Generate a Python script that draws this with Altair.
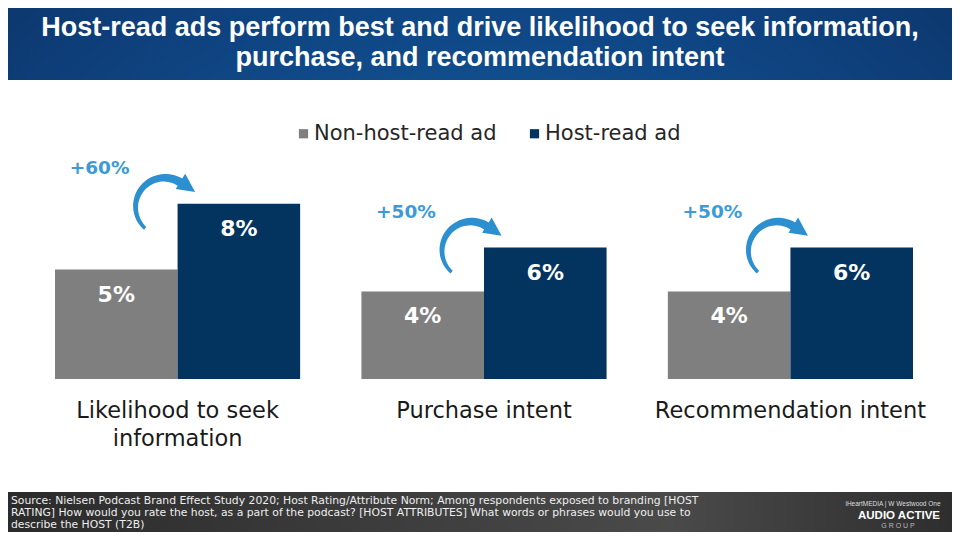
import math
import altair as alt
import pandas as pd

# ---------------- data ----------------
categories = ["Likelihood to seek information", "Purchase intent", "Recommendation intent"]
series = ["Non-host-read ad", "Host-read ad"]
non_host = [5, 4, 4]
host = [8, 6, 6]
series_colors = ["#7f7f7f", "#03335f"]

title_lines = [
    "Host-read ads perform best and drive likelihood to seek information,",
    "purchase, and recommendation intent",
]
source_lines = [
    "Source: Nielsen Podcast Brand Effect Study 2020; Host Rating/Attribute Norm; Among respondents exposed to branding [HOST",
    "RATING] How would you rate the host, as a part of the podcast? [HOST ATTRIBUTES] What words or phrases would you use to",
    "describe  the HOST (T2B)",
]

# ---------------- tables ----------------
rows = []
for c, a, b in zip(categories, non_host, host):
    rows.append({"cat": c, "series": series[0], "value": a, "label": f"{a}%"})
    rows.append({"cat": c, "series": series[1], "value": b, "label": f"{b}%"})
bars_df = pd.DataFrame(rows)

lift_df = pd.DataFrame({
    "cat": categories,
    "host": host,
    "lift": [f"+{round((h - n) / n * 100)}%" for n, h in zip(non_host, host)],
})
one = pd.DataFrame({"d": [0]})

W, H = 858, 219
PAD = {"left": 47, "top": 152, "right": 39, "bottom": 153}

# curved arrow glyph (unit-square path, scaled by sqrt(size)/2)
def arrow_path(k=40.0, cx=-13.0, cy=3.0):
    rm = 29.0
    th0, th1 = math.radians(222), math.radians(392)
    t0, t1 = 3.5, 8.5
    n = 36

    def pt(th, r):
        return (cx + r * math.sin(th), cy - r * math.cos(th))

    outer, inner = [], []
    for i in range(n + 1):
        f = i / n
        th = th0 + (th1 - th0) * f
        t = t0 + (t1 - t0) * f
        outer.append(pt(th, rm + t / 2))
        inner.append(pt(th, rm - t / 2))
    head = [pt(th1, rm + 10), pt(math.radians(424), rm + 5), pt(th1, rm - 8)]
    pts = outer + head + inner[::-1]
    return "M" + " L".join(f"{x / k:.4f},{y / k:.4f}" for x, y in pts) + " Z"

ARROW = arrow_path()

x_enc = alt.X(
    "cat:N",
    sort=categories,
    title=None,
    scale=alt.Scale(paddingInner=0.2, paddingOuter=0),
    axis=alt.Axis(
        domain=False, ticks=False, grid=False,
        labelFont="DejaVu Sans", labelFontSize=22.5, labelColor="#1a1a1a",
        labelPadding=20, labelLineHeight=28, labelAngle=0, labelLimit=400,
        labelExpr="datum.label == 'Likelihood to seek information' ? ['Likelihood to seek', 'information'] : datum.label",
    ),
)
y_scale = alt.Scale(domain=[0, 10])
xoff = alt.XOffset("series:N", sort=series, scale=alt.Scale(paddingInner=0, paddingOuter=0))

base = alt.Chart(bars_df)

bars = base.mark_bar().encode(
    x=x_enc,
    xOffset=xoff,
    y=alt.Y("value:Q", scale=y_scale, axis=None),
    color=alt.Color(
        "series:N", sort=series,
        scale=alt.Scale(domain=series, range=series_colors),
        legend=alt.Legend(
            orient="none", legendX=238, legendY=-37, direction="horizontal", title=None,
            symbolType="square", symbolSize=85, symbolStrokeWidth=0, symbolOpacity=1,
            labelFont="DejaVu Sans", labelFontSize=21, labelColor="#262626",
            labelLimit=400, columnPadding=27, labelOffset=0,
        ),
    ),
)

values = base.mark_text(
    font="DejaVu Sans", fontWeight="bold", fontSize=22, color="white",
    baseline="middle", dy=25,
).encode(
    x=x_enc,
    xOffset=xoff,
    y=alt.Y("value:Q", scale=y_scale, axis=None),
    text="label:N",
)

arrows = alt.Chart(lift_df).mark_point(
    shape=ARROW, size=6400, filled=True, opacity=1, color="#2b8fd0", strokeWidth=0,
).encode(
    x=x_enc,
    y=alt.Y("host:Q", scale=y_scale, axis=None),
)

lifts = alt.Chart(lift_df).mark_text(
    font="DejaVu Sans", fontWeight="bold", fontSize=18.5, color="#3c9bd6",
    baseline="middle", align="center", dx=-78, dy=-36,
).encode(
    x=x_enc,
    y=alt.Y("host:Q", scale=y_scale, axis=None),
    text="lift:N",
)

# ---------------- decorations ----------------
banner = alt.Chart(one).mark_rect(
    color={
        "gradient": "radial",
        "x1": 0.5, "y1": 1.0, "r1": 0.0,
        "x2": 0.5, "y2": 1.0, "r2": 1.0,
        "stops": [
            {"offset": 0, "color": "#1b74b9"},
            {"offset": 0.55, "color": "#0f4583"},
            {"offset": 1, "color": "#0a2553"},
        ],
    }
).encode(x=alt.value(-47), x2=alt.value(897), y=alt.value(-152), y2=alt.value(-80))

title_marks = [
    alt.Chart(one).mark_text(
        text=t, font="Liberation Sans", fontWeight="bold", fontSize=27, color="white",
        align="center", baseline="middle",
    ).encode(x=alt.value(425), y=alt.value(yy))
    for t, yy in zip(title_lines, [-132, -102])
]

footer = alt.Chart(one).mark_rect(
    color={
        "gradient": "linear", "x1": 0, "y1": 0, "x2": 1, "y2": 0,
        "stops": [
            {"offset": 0, "color": "#2b2b2b"},
            {"offset": 0.7, "color": "#4a4a4a"},
            {"offset": 1, "color": "#2e2e2e"},
        ],
    }
).encode(x=alt.value(-47), x2=alt.value(897), y=alt.value(332), y2=alt.value(380))

source_marks = [
    alt.Chart(one).mark_text(
        text=t, font="DejaVu Sans", fontSize=10.8, color="#eeeeee",
        align="left", baseline="middle",
    ).encode(x=alt.value(-44), y=alt.value(yy))
    for t, yy in zip(source_lines, [341, 353, 365])
]

logo_small = alt.Chart(one).mark_text(
    text="iHeartMEDIA | W Westwood One", font="Liberation Sans", fontSize=6.5, color="#dddddd",
    align="center", baseline="middle",
).encode(x=alt.value(838), y=alt.value(344))
logo_main = alt.Chart(one).mark_text(
    text="AUDIO ACTIVE", font="Liberation Sans", fontWeight="bold", fontSize=11.5, color="white",
    align="center", baseline="middle",
).encode(x=alt.value(844), y=alt.value(356))
logo_group = alt.Chart(one).mark_text(
    text="G   R   O   U   P", font="Liberation Sans", fontSize=7, color="#bbbbbb",
    align="center", baseline="middle",
).encode(x=alt.value(843), y=alt.value(366))

chart = alt.layer(
    bars, values, arrows, lifts,
    banner, *title_marks, footer, *source_marks, logo_small, logo_main, logo_group,
).properties(
    width=W, height=H,
    autosize=alt.AutoSizeParams(type="none"),
    padding=PAD,
    background="white",
).configure_view(strokeWidth=0)

chart.save("out.html", embed_options={"renderer": "svg", "actions": False})
